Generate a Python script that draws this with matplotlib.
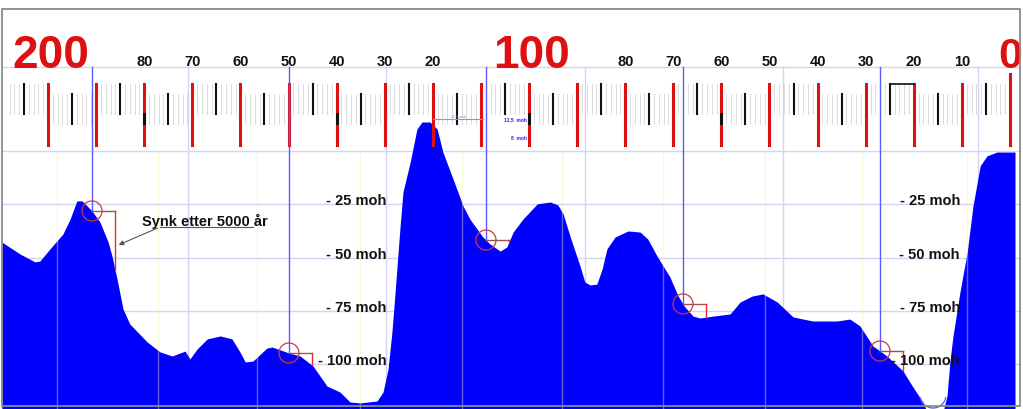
import numpy as np
import matplotlib
matplotlib.use('Agg')
import matplotlib.pyplot as plt
import matplotlib.transforms as mtransforms
from matplotlib.patches import Ellipse, Arc, Rectangle

plt.rcParams['font.family'] = ['Liberation Sans', 'DejaVu Sans']

# ---------------- data ----------------
# terrain profile: distance (km, 200 -> 0) and height (moh)
profile_km = [209.6, 205.8, 202.7, 201.7, 199.6, 196.9, 195.4, 194.0, 192.9, 190.85,
              189.2, 187.5, 186.7, 185.65, 184.4, 183.0, 179.4, 176.7, 174.2, 171.5,
              170.5, 169.0, 166.9, 164.2, 161.75, 160.1, 159.0, 157.4, 154.5, 153.4,
              149.9, 147.6, 144.9, 142.0, 139.3, 137.2, 135.1, 131.6, 130.35, 129.3,
              128.5, 127.9, 126.8, 126.2, 124.7, 123.3, 122.25, 120.6, 119.1, 117.9,
              115.8, 113.7, 112.3, 109.6, 108.1, 106.0, 104.6, 103.3, 101.25, 98.3,
              95.6, 94.0, 92.9, 91.5, 89.4, 88.4, 87.3, 85.9, 84.8, 83.8,
              82.1, 79.4, 76.9, 75.3, 73.4, 70.7, 69.0, 67.6, 65.9, 64.45,
              61.75, 58.2, 56.1, 53.6, 51.35, 48.4, 45.1, 41.0, 36.0, 33.3,
              31.2, 28.5, 25.6, 22.25, 20.2, 18.1, 17.3, 13.9, 13.1, 12.5,
              11.85, 10.4, 8.9, 7.7, 6.2, 4.8, 2.7, -1.04]
profile_moh = [-42.7, -48.3, -52.0, -51.6, -45.9, -38.9, -31.9, -23.4, -23.4, -28.1,
               -33.3, -42.7, -49.2, -60.0, -74.1, -81.1, -89.5, -94.2, -96.1, -93.8,
               -97.5, -92.8, -88.1, -86.7, -88.1, -94.2, -98.9, -98.5, -92.4, -91.9,
               -94.7, -96.1, -100.8, -110.2, -113.0, -117.7, -118.1, -117.2, -113.0, -102.2,
               -84.9, -68.0, -35.2, -19.2, -5.2, 10.3, 13.6, 13.6, 10.3, -0.5,
               -13.1, -25.8, -31.9, -40.3, -43.6, -46.9, -45.0, -38.0, -31.9, -24.8,
               -23.9, -25.3, -29.5, -39.8, -53.9, -61.4, -62.8, -62.4, -55.3, -45.9,
               -40.3, -37.5, -38.0, -41.3, -49.2, -59.1, -68.0, -73.1, -77.4, -78.3,
               -77.4, -76.4, -70.8, -68.0, -67.0, -70.8, -77.8, -79.7, -79.7, -78.8,
               -82.0, -91.4, -96.1, -103.1, -110.6, -117.7, -122.0, -122.0, -114.9, -98.9,
               -86.7, -66.1, -47.4, -25.8, -7.0, -2.3, -0.5, -0.5]

ruler_major_km = list(range(0, 201, 10))
ruler_label_km = [180, 170, 160, 150, 140, 130, 120, 80, 70, 60, 50, 40, 30, 20, 10]
ruler_label_txt = ['80', '70', '60', '50', '40', '30', '20',
                   '80', '70', '60', '50', '40', '30', '20', '10']
big_label_km = [200, 100, 0]
big_label_txt = ['200', '100', '0']
marked_major_km = [180, 140, 100, 60]

level_moh = [-25, -50, -75, -100]
level_txt = ['- 25 moh', '- 50 moh', '- 75 moh', '- 100 moh']
level_label_km = [129.6, 10.4]

shore_km = [190.85, 149.9, 108.94, 67.98, 27.03]
mid_grid_km = [170.9, 129.7, 88.4, 47.2, 6.65]
yellow_grid_km = [198.1, 177.1, 156.5, 135.1, 113.9, 93.1, 72.1, 50.9, 30.8, 8.9]
bracket_km = 4.8

annot_text = 'Synk etter 5000 år'

# ---------------- figure ----------------
W, H = 1023, 410
fig = plt.figure(figsize=(W / 100, H / 100), dpi=100)
ax = fig.add_axes([0, 0, 1, 1])
KPX = 4.81   # px per km
MPX = 2.133  # px per moh
X0, Y0 = 48, 152  # pixel of 200 km / 0 moh


def d(xp):
    return 200 - (xp - X0) / KPX


def h(yp):
    return (Y0 - yp) / MPX


def fy(yp):
    return 1 - yp / H


ax.set_xlim(d(0), d(W))
ax.set_ylim(h(H), h(0))
ax.axis('off')
tr = mtransforms.blended_transform_factory(ax.transData, ax.transAxes)

LAV = '#d6d2f2'
# horizontal grid
for yp in [68, 152]:
    ax.plot([d(2), d(1020)], [h(yp)] * 2, color=LAV, lw=1, zorder=1)
for lv in level_moh:
    ax.plot([d(2), d(1020)], [lv, lv], color=LAV, lw=1, zorder=1)
# vertical lavender grid
for km in mid_grid_km:
    ax.plot([km, km], [h(68), h(H)], color=LAV, lw=1, zorder=1)

# profile fill
px = np.array(profile_km)
py = np.array(profile_moh)
ax.fill_between(px, py, h(H) - 10, color='#0000ff', lw=0, zorder=2)

# yellow verticals over fill
for km in yellow_grid_km:
    ax.plot([km, km], [h(152), h(H)], color='#f4f0a0', lw=1, alpha=0.4, zorder=3)

# ruler
minor = [k for k in range(1, 209) if k % 5 != 0]
for k in minor:
    up = (k // 10) % 2 == 0
    y1, y2 = (85, 115) if up else (95, 125)
    ax.plot([k, k], [fy(y1), fy(y2)], transform=tr, color='#d6d6d6', lw=0.6, zorder=3)
for k in range(5, 210, 10):
    up = (k // 10) % 2 == 0
    y1, y2 = (85, 115) if up else (95, 125)
    ax.plot([k, k], [fy(y1), fy(y2)], transform=tr, color='#111111', lw=1.5, zorder=4)
for k in ruler_major_km:
    ytop = 75 if k == 0 else 85
    ax.plot([k, k], [fy(ytop), fy(146)], transform=tr, color='#dd1111', lw=2.2, zorder=4)
for k in marked_major_km:
    ax.plot([k, k], [fy(115), fy(124)], transform=tr, color='#111111', lw=2.2, zorder=5)
ax.plot([25, 20], [fy(85), fy(85)], transform=tr, color='#111111', lw=1.2, zorder=5)

for k, t in zip(ruler_label_km, ruler_label_txt):
    ax.text(k, fy(66), t, transform=tr, ha='center', va='baseline',
            fontsize=10.5, fontweight='bold', color='#111111', zorder=6)
for k, t in zip(big_label_km, big_label_txt):
    off = 0.5 if k != 0 else 0.0
    ax.text(k - off, fy(68), t, transform=tr, ha='center', va='baseline',
            fontsize=33 if k != 0 else 31, fontweight='bold', color='#dd1111', zorder=6)

# small labels near 100
ax.plot([d(433), d(483)], [fy(120), fy(120)], transform=tr, color='#b080e0', lw=0.8, zorder=5)
ax.text(d(458), fy(119), '12,5 moh', transform=tr, ha='center', va='bottom',
        fontsize=2.5, color='#a070d0', zorder=6)
ax.text(d(527), fy(120), '12,5  moh', transform=tr, ha='right', va='center',
        fontsize=3.5, fontweight='bold', color='#2020ff', zorder=6)
ax.text(d(527), fy(138), '8  moh', transform=tr, ha='right', va='center',
        fontsize=3.5, fontweight='bold', color='#2020ff', zorder=6)

# shore-line markers
xi = px[::-1]
yi = py[::-1]
for km in shore_km:
    hc = np.interp(km, xi, yi)
    ax.plot([km, km], [h(68), hc], color='#5a5aff', lw=1, zorder=4)
    ax.add_patch(Ellipse((km, hc), 20 / KPX, 20 / MPX, fill=False,
                         edgecolor='#d03a3a', lw=0.9, zorder=5))
    kb = km - bracket_km
    hb = np.interp(kb, xi, yi)
    ax.plot([km, kb], [hc, hc], color='#a05050', lw=1, zorder=5)
    ax.plot([kb, kb], [hc, hb], color='#e03030', lw=1, zorder=5)

ax.add_patch(Arc((d(933), h(396)), 26 / KPX, 26 / MPX, theta1=200, theta2=340,
                 edgecolor='#6060ff', lw=1, zorder=5))

# level labels
for lv, t in zip(level_moh, level_txt):
    for km in level_label_km:
        ax.text(km, lv, t, ha='right', va='baseline', fontsize=10.5,
                fontweight='bold', color='#111111', zorder=6)

# annotation
ax.text(d(142), h(226), annot_text, ha='left', va='baseline', fontsize=10.5,
        fontweight='bold', color='#111111', zorder=6)
ax.plot([d(160), d(253)], [h(228), h(228)], color='#555555', lw=0.8, zorder=6)
ax.annotate('', xy=(d(116), h(247)), xytext=(d(160), h(228)),
            arrowprops=dict(arrowstyle='-|>', color='#555555', lw=0.8,
                            mutation_scale=7), zorder=6)

# frame
ax.add_patch(Rectangle((2 / W, fy(407)), 1018 / W, (407 - 10) / H, transform=ax.transAxes,
                       fill=False, edgecolor='#8a8a8a', lw=1.3, zorder=7))

fig.savefig('out.png', dpi=100)
